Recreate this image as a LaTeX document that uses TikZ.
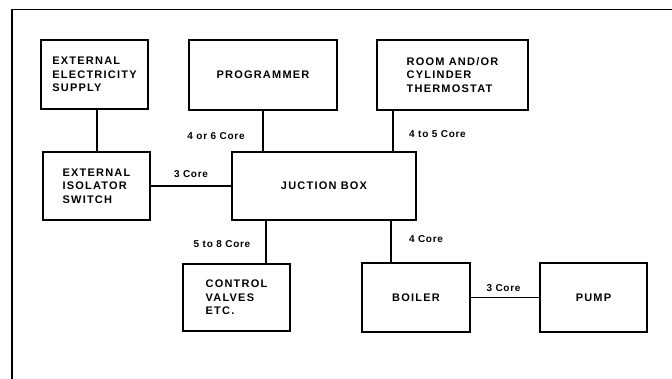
\documentclass[tikz,border=0pt]{standalone}
\usepackage{fontspec}
\setmainfont{Liberation Sans}
\newfontfamily\boxfont[LetterSpace=11]{Liberation Sans}
\newfontfamily\labfont[LetterSpace=7]{Liberation Sans}
\begin{document}
\begin{tikzpicture}[x=1pt,y=-1pt,
  box/.style={draw, line width=1.8pt, inner sep=0pt, align=left,
    font=\boxfont\bfseries\fontsize{11}{13.3}\selectfont},
  wire/.style={line width=1.6pt},
  lab/.style={inner sep=0pt, font=\labfont\bfseries\fontsize{10}{11}\selectfont}]
\useasboundingbox (0,0) rectangle (672,379);
% frame
\coordinate (fbl) at (12,379);
\coordinate (ftl) at (12,9.5);
\coordinate (ftr) at (672,9.5);
\draw[line width=1.5pt] (fbl) -- (ftl) -- (ftr);
% boxes
\node[box, minimum width=107, minimum height=69] (ext) at (94.5,74.5) {EXTERNAL\\ELECTRICITY\\SUPPLY};
\node[box, minimum width=148, minimum height=70] (prog) at (263,75) {PROGRAMMER};
\node[box, minimum width=151, minimum height=70] (thermo) at (452.5,75) {ROOM AND/OR\\CYLINDER\\THERMOSTAT};
\node[box, minimum width=107, minimum height=68] (iso) at (96.5,186) {EXTERNAL\\ISOLATOR\\SWITCH};
\node[box, minimum width=184, minimum height=68] (jb) at (324,186) {JUCTION BOX};
\node[box, minimum width=107, minimum height=67] (cv) at (236.5,297.5) {CONTROL\\VALVES\\ETC.};
\node[box, minimum width=108, minimum height=69] (boiler) at (416,297.5) {BOILER};
\node[box, minimum width=107, minimum height=69] (pump) at (593.5,297.5) {PUMP};
% connectors
\draw[wire] (iso.north) ++(0.5,0) coordinate (e1) -- (e1 |- ext.south);
\draw[wire] (prog.south) -- (prog.south |- jb.north);
\draw[wire] (jb.north east) ++(-24,0) coordinate (t1) -- (t1 |- thermo.south);
\draw[wire] (iso.east) -- (iso.east -| jb.west);
\draw[wire] (cv.north east) ++(-25,0) coordinate (c1) -- (c1 |- jb.south);
\draw[wire] (boiler.north west) ++(30,0) coordinate (b1) -- (b1 |- jb.south);
\draw[line width=1.2pt] (boiler.east) -- (pump.west);
% labels
\node[lab] (l1) at (216,136) {4 or 6 Core};
\node[lab] (l2) at (191,174) {3 Core};
\node[lab] (l3) at (437.5,134) {4 to 5 Core};
\node[lab] (l4) at (222,244) {5 to 8 Core};
\node[lab] (l5) at (426,239) {4 Core};
\node[lab] (l6) at (503.5,288) {3 Core};
\end{tikzpicture}
\end{document}
